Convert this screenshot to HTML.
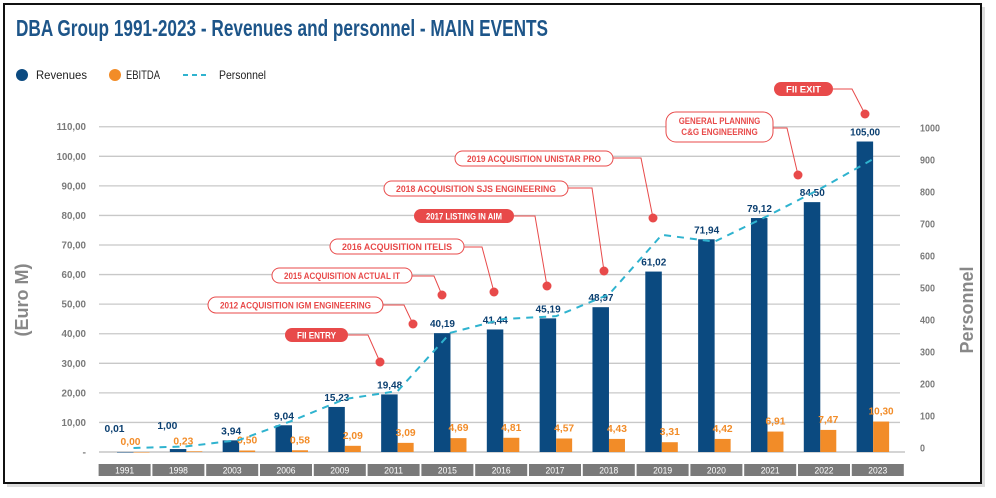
<!DOCTYPE html>
<html><head><meta charset="utf-8"><style>
html,body{margin:0;padding:0;background:#fff;}
svg{display:block;font-family:"Liberation Sans Narrow","Liberation Sans",sans-serif;}
</style></head><body>
<svg id="chart" width="996" height="498" viewBox="0 0 996 498">
  <rect x="7" y="7" width="978" height="480" fill="#bbb" opacity="0.5"/>
  <rect x="4" y="4" width="977" height="479" fill="#fff" stroke="#111" stroke-width="2"/>
  <text x="16" y="36" font-size="23" font-weight="bold" fill="#1d5589" textLength="532" lengthAdjust="spacingAndGlyphs">DBA Group 1991-2023 - Revenues and personnel - MAIN EVENTS</text>
  <g>
    <circle cx="22" cy="75" r="6" fill="#0b4a80"/>
    <text x="36" y="79" font-size="12" fill="#222" textLength="51" lengthAdjust="spacingAndGlyphs">Revenues</text>
    <circle cx="115" cy="75" r="6" fill="#f28c28"/>
    <text x="126" y="79" font-size="12" fill="#222" textLength="34" lengthAdjust="spacingAndGlyphs">EBITDA</text>
    <line x1="183" y1="75" x2="210" y2="75" stroke="#2fb3cf" stroke-width="2" stroke-dasharray="5,4"/>
    <text x="219" y="79" font-size="12" fill="#222" textLength="47" lengthAdjust="spacingAndGlyphs">Personnel</text>
  </g>
  <text transform="translate(28,300) rotate(-90)" text-anchor="middle" font-size="18" font-weight="bold" fill="#888">(Euro M)</text>
  <text transform="translate(973,310) rotate(-90)" text-anchor="middle" font-size="18" font-weight="bold" fill="#888">Personnel</text>
  <g id="grid"></g><g id="bars"></g><g id="line"></g><g id="ann"></g><g id="xaxis"></g>
</svg>
<script>
const categories=["1991","1998","2003","2006","2009","2011","2015","2016","2017","2018","2019","2020","2021","2022","2023"];
const revenues=[0.01,1.00,3.94,9.04,15.23,19.48,40.19,41.44,45.19,48.97,61.02,71.94,79.12,84.50,105.00];
const ebitda=[0.00,0.23,0.50,0.58,2.09,3.09,4.69,4.81,4.57,4.43,3.31,4.42,6.91,7.47,10.30];
const personnel=[0,5,25,85,153,178,360,403,412,480,666,645,725,810,903];
const leftTicks=[0,10,20,30,40,50,60,70,80,90,100,110];
const rightTicks=[0,100,200,300,400,500,600,700,800,900,1000];
const NS="http://www.w3.org/2000/svg";
function mk(tag,attrs,parent,txt){const e=document.createElementNS(NS,tag);for(const k in attrs)e.setAttribute(k,attrs[k]);if(txt!==undefined)e.textContent=txt;parent.appendChild(e);return e;}
const yL=v=>452-v*2.957;
const yR=v=>448-v*0.32;
const xC=i=>133.5+i*52.83;
const fmt=v=>v.toFixed(2).replace('.',',');
const grid=document.getElementById('grid');
leftTicks.forEach(t=>{
  const l=mk('line',{x1:99,x2:t===0?905:900,y1:yL(t),y2:yL(t),stroke:t===0?'#bbb':'#c8c8c8','stroke-width':1.3},grid);
  
  
  const s=t===0?'-':fmt(t);
  const tx=mk('text',{x:86,y:yL(t)+3.5,'text-anchor':'end','font-size':10.5,'font-weight':'bold',fill:'#7a7a7a'},grid,s);
  if(t!==0){tx.setAttribute('textLength',s.length*4.9);tx.setAttribute('lengthAdjust','spacingAndGlyphs');}
  
  
});
rightTicks.forEach(t=>{
  const s=String(t);
  const tx=mk('text',{x:920,y:yR(t)+3.5,'font-size':10.5,'font-weight':'bold',fill:'#7a7a7a',textLength:s.length*5,lengthAdjust:'spacingAndGlyphs'},grid,s);
  
  
});
const bars=document.getElementById('bars');
const xg=document.getElementById('xaxis');
categories.forEach((c,i)=>{
  const cx=xC(i);
  const r=mk('rect',{x:cx-16.5,y:yL(revenues[i]),width:16.5,height:Math.max(452-yL(revenues[i]),0.5),fill:'#0b4a80'},bars);
  
  
  const e=mk('rect',{x:cx,y:yL(ebitda[i]),width:16,height:Math.max(452-yL(ebitda[i]),0.5),fill:'#f28c28'},bars);
  
  
  const rs=fmt(revenues[i]), es=fmt(ebitda[i]);
  const rt=mk('text',{x:cx-(i<2?19:8),y:yL(revenues[i])-(i<2?20:6),'text-anchor':'middle','font-size':10.5,'font-weight':'bold',fill:'#0b3f70',textLength:rs.length*5,lengthAdjust:'spacingAndGlyphs'},bars,rs);
  
  
  const et=mk('text',{x:cx+(i<2?-3:8),y:yL(ebitda[i])-7,'text-anchor':'middle','font-size':10.5,'font-weight':'bold',fill:'#f28c28',textLength:es.length*5,lengthAdjust:'spacingAndGlyphs'},bars,es);
  
  
  const bx=98.6+i*53.8;
  const b=mk('rect',{x:bx,y:464,width:52,height:12,fill:'#7a7a7a'},xg);
  
  
  const bt=mk('text',{x:bx+26,y:473.5,'text-anchor':'middle','font-size':9.5,fill:'#fff',textLength:19,lengthAdjust:'spacingAndGlyphs'},xg,c);
  
  
});
const pts=personnel.map((v,i)=>xC(i)+','+yR(v)).join(' ');
const pl=mk('polyline',{points:pts,fill:'none',stroke:'#2fb3cf','stroke-width':2,'stroke-dasharray':'7,6'},document.getElementById('line'));


const ann=[
 ["FII EXIT",774,833,82,96,true,852,89,865,114],
 ["GENERAL PLANNING|C&G ENGINEERING",666,773,112,142,false,787,128,798,175],
 ["2019 ACQUISITION UNISTAR PRO",455,613,151,166,false,641,158,653,218],
 ["2018 ACQUISITION SJS ENGINEERING",384,568,181,196,false,592,188,604,271],
 ["2017 LISTING IN AIM",414,514,209,223,true,535,216,547,286],
 ["2016 ACQUISITION ITELIS",330,464,239,254,false,482,247,494,292],
 ["2015 ACQUISITION ACTUAL IT",272,412,268,283,false,434,276,442,295],
 ["2012 ACQUISITION IGM ENGINEERING",208,383,297,313,false,404,305,413,324],
 ["FII ENTRY",285,348,328,342,true,368,335,380,362]
];
const ag=document.getElementById('ann');
ann.forEach(a=>{
  const [t,x1,x2,y1,y2,f,bx,by,dx,dy]=a;
  const ln=mk('polyline',{points:`${x2},${by} ${bx},${by} ${dx},${dy}`,fill:'none',stroke:'#e84a4a','stroke-width':1},ag);
  
  
  const d=mk('circle',{cx:dx,cy:dy,r:4.5,fill:'#e84a4a'},ag);
  
  
  const h=y2-y1;
  const r=mk('rect',{x:x1,y:y1,width:x2-x1,height:h,rx:Math.min(h/2,10),fill:f?'#e84a4a':'#fff',stroke:'#e84a4a','stroke-width':f?0:1},ag);
  
  
  const lines=t.split('|');
  lines.forEach((s,k)=>{
    const yy=lines.length===1?(y1+y2)/2+3.5:y1+12+k*11;
    const tl=lines.length===1?(x2-x1)-24:s.length*5.1;
    const tx=mk('text',{x:(x1+x2)/2,y:yy,'text-anchor':'middle','font-size':9.5,'font-weight':'bold',fill:f?'#fff':'#e84a4a',textLength:tl,lengthAdjust:'spacingAndGlyphs'},ag,s);
    
    
  });
});
</script>
</body></html>
